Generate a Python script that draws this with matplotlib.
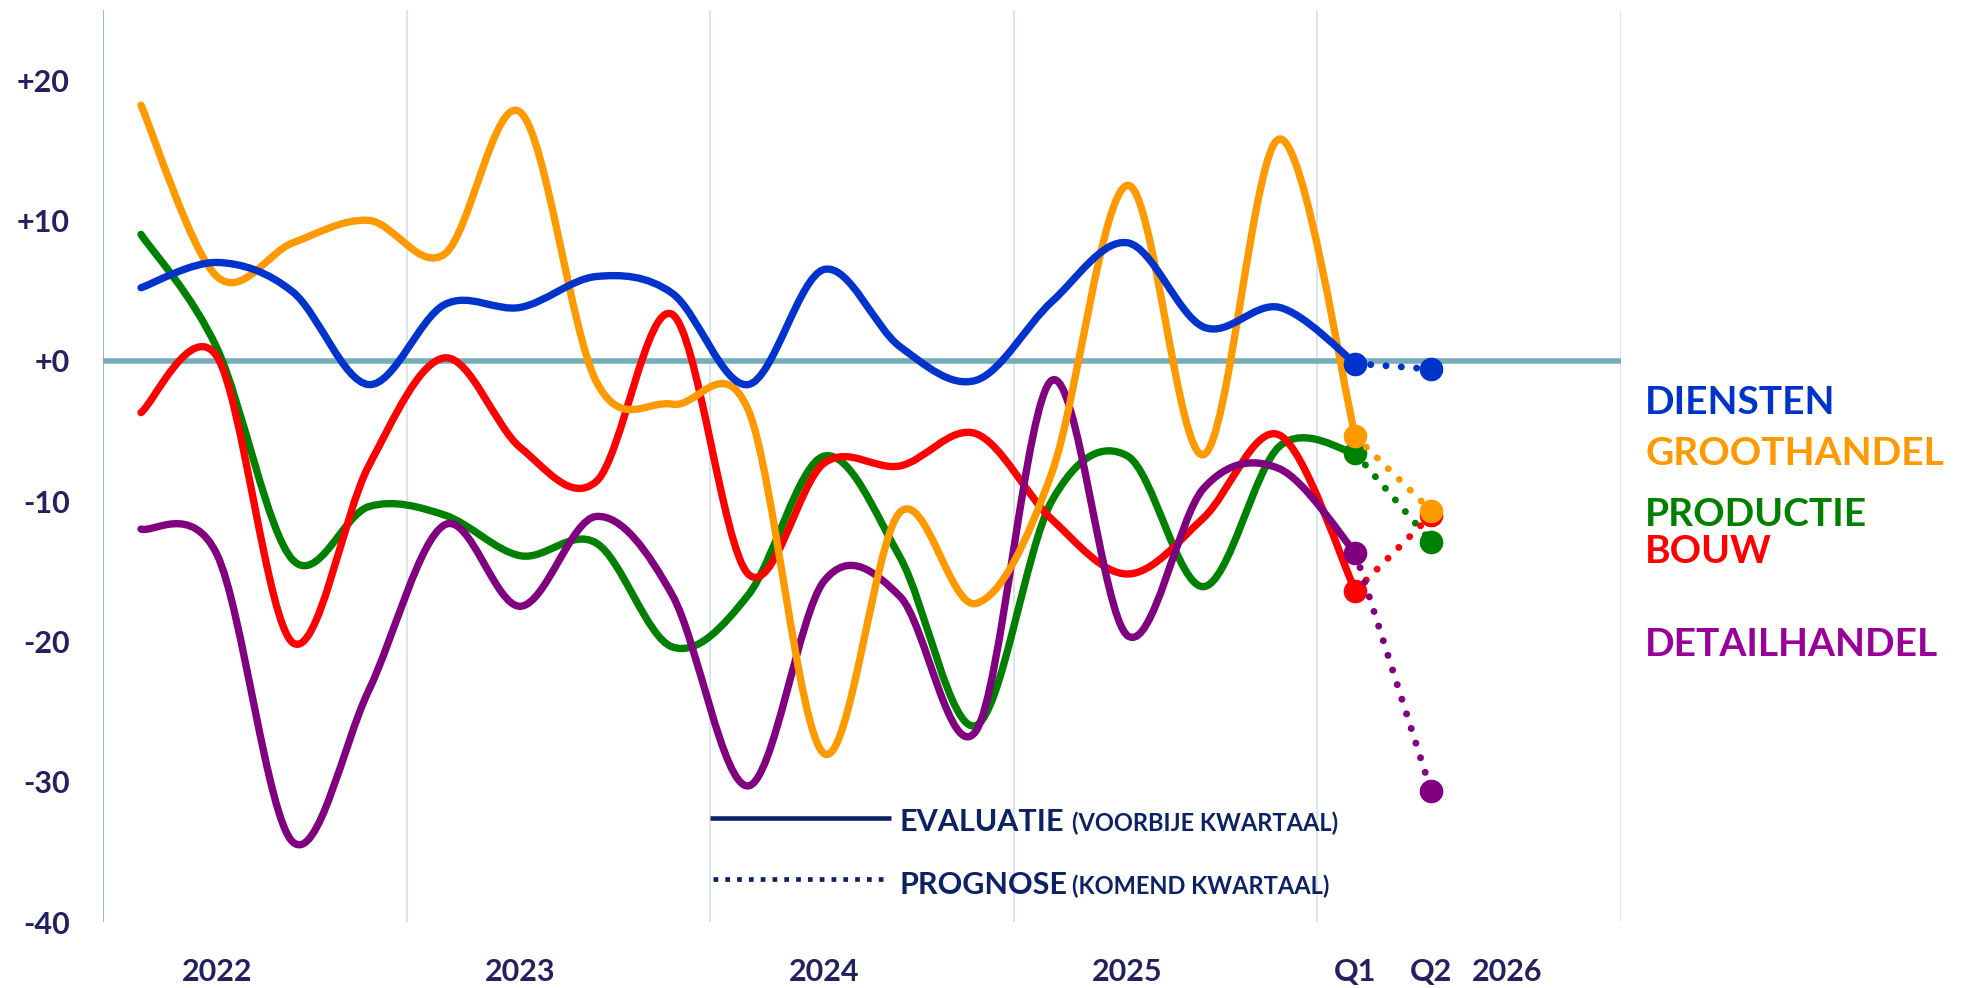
import numpy as np
import matplotlib
matplotlib.use("Agg")
import matplotlib.pyplot as plt
from matplotlib.path import Path
from matplotlib.patches import PathPatch

plt.rcParams["font.family"] = ["Lato", "DejaVu Sans"]
plt.rcParams["font.weight"] = "bold"

# quarterly balance (evaluation) Q1 2022 .. Q1 2026, plus forecast for Q2 2026
quarters = np.arange(17)
forecast_x = 17

diensten = [5.2, 7.0, 4.9, -1.7, 4.0, 3.8, 6.0, 4.8, -1.7, 6.5, 1.0, -1.4, 4.2, 8.4, 2.4, 3.8, -0.2]
groothandel = [18.2, 6.0, 8.4, 10.0, 7.6, 17.7, -1.5, -3.1, -3.5, -28.0, -10.8, -17.3, -8.0, 12.5, -6.7, 15.8, -5.4]
productie = [9.0, 0.9, -14.2, -10.4, -11.0, -13.9, -13.0, -20.4, -16.7, -6.8, -14.0, -26.0, -10.0, -6.8, -16.1, -6.1, -6.6]
bouw = [-3.7, 0.3, -20.1, -7.5, 0.2, -6.2, -8.6, 3.3, -15.2, -7.3, -7.5, -5.2, -11.3, -15.2, -11.2, -5.3, -16.4]
detailhandel = [-12.0, -13.8, -34.3, -23.5, -11.7, -17.5, -11.1, -16.7, -30.3, -15.7, -16.8, -26.4, -1.4, -19.6, -9.1, -7.7, -13.7]

forecast = {"DIENSTEN": -0.6, "GROOTHANDEL": -10.7, "PRODUCTIE": -12.9, "BOUW": -11.0, "DETAILHANDEL": -30.7}

series = [
    ("PRODUCTIE", productie, "#008000", "#008000", -11.81),
    ("BOUW", bouw, "#ff0000", "#ff0000", -14.45),
    ("DETAILHANDEL", detailhandel, "#800080", "#990099", -21.07),
    ("GROOTHANDEL", groothandel, "#ff9900", "#ff9900", -7.40),
    ("DIENSTEN", diensten, "#0033cc", "#0033cc", -3.77),
]

year_ticks = [1, 5, 9, 13, 16, 17, 18]
year_labels = ["2022", "2023", "2024", "2025", "Q1", "Q2", "2026"]

TXT = "#23215e"
NAVY = "#0b2265"


def smooth_path(xs, ys):
    # Catmull-Rom style bezier, like the smoothed lines in the spreadsheet chart
    pts = np.column_stack([xs, ys]).astype(float)
    n = len(pts)
    verts = [tuple(pts[0])]
    codes = [Path.MOVETO]
    for i in range(n - 1):
        p0 = pts[max(i - 1, 0)]
        p1 = pts[i]
        p2 = pts[i + 1]
        p3 = pts[min(i + 2, n - 1)]
        c1 = p1 + (p2 - p0) / 6
        c2 = p2 - (p3 - p1) / 6
        verts += [tuple(c1), tuple(c2), tuple(p2)]
        codes += [Path.CURVE4] * 3
    return Path(verts, codes)


fig = plt.figure(figsize=(19.67, 9.88), dpi=100)
ax = fig.add_axes([0.0524, 0.0668, 0.7717, 0.9232])
ax.set_xlim(-0.5, 19.5)
ax.set_ylim(-40, 25)

for s in ax.spines.values():
    s.set_visible(False)

# year separators
for b in [4 * k - 0.5 for k in range(6)]:
    ax.axvline(b, color="#7fb3c0" if b < 0 else "#d3e2e7", lw=1.2, zorder=0)
ax.axhline(0, color="#75adb8", lw=4, zorder=1)

for i, (name, vals, col, lab_col, lab_y) in enumerate(series):
    z = 3 + i
    ax.add_patch(PathPatch(smooth_path(quarters, vals), fill=False, edgecolor=col,
                           lw=5.3, capstyle="round", joinstyle="round", zorder=z))
    ax.plot([quarters[-1], forecast_x], [vals[-1], forecast[name]], color=col, lw=5,
            linestyle=(0, (0.01, 2.2)), dash_capstyle="round", zorder=z)
    ax.plot([quarters[-1], forecast_x], [vals[-1], forecast[name]], "o", color=col,
            ms=16, zorder=z + 0.5)
    ax.text(19.82, lab_y, name, color=lab_col, fontsize=28, fontweight="bold",
            ha="left", va="baseline", clip_on=False)

# legend for line styles
ax.plot([7.5, 9.88], [-32.6, -32.6], color=NAVY, lw=3.3, solid_capstyle="butt")
ax.plot([7.54, 9.86], [-36.9, -36.9], color=NAVY, lw=3.4, linestyle=(0, (1, 1.5)))
ax.text(9.99, -33.5, "EVALUATIE", color=NAVY, fontsize=22, fontweight="bold", va="baseline")
ax.text(12.27, -33.5, "(VOORBIJE KWARTAAL)", color=NAVY, fontsize=17, fontweight="bold", va="baseline")
ax.text(9.99, -38.0, "PROGNOSE", color=NAVY, fontsize=22, fontweight="bold", va="baseline")
ax.text(12.27, -38.0, "(KOMEND KWARTAAL)", color=NAVY, fontsize=17, fontweight="bold", va="baseline")

yt = np.arange(-40, 21, 10)
ax.set_yticks(yt)
ax.set_yticklabels([f"+{v}" if v >= 0 else f"{v}" for v in yt])
ax.set_xticks(year_ticks)
ax.set_xticklabels(year_labels)
ax.tick_params(axis="y", length=0, pad=24, labelsize=22, labelcolor=TXT)
ax.tick_params(axis="x", length=0, pad=26, labelsize=22, labelcolor=TXT)
for lbl in ax.get_xticklabels() + ax.get_yticklabels():
    lbl.set_fontweight("bold")

fig.savefig("out.png", dpi=100, facecolor="white")
